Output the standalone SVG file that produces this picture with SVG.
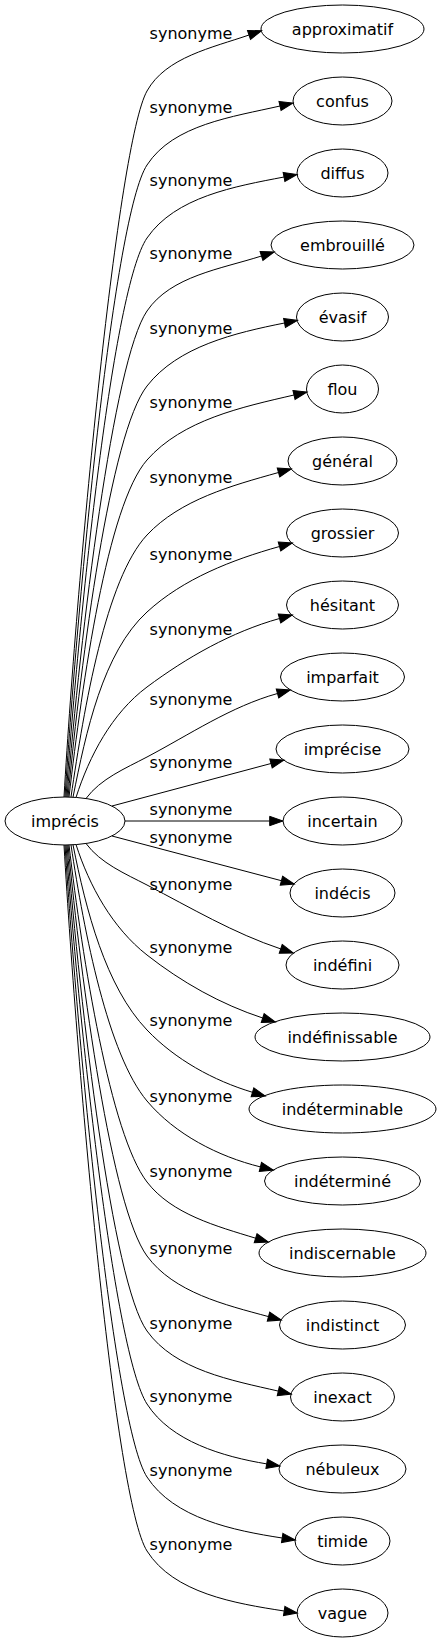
<svg xmlns="http://www.w3.org/2000/svg" width="441" height="1643" viewBox="0 0 441 1643">
<style>
text { font-family: "DejaVu Sans", "Liberation Sans", sans-serif; font-size: 16px; fill: #000; text-anchor: middle; }
.node ellipse { fill: none; stroke: #000; stroke-width: 1; }
#edges path { fill: none; stroke: #000; stroke-width: 1; marker-end: url(#arr); }
</style>
<defs>
<marker id="arr" markerUnits="userSpaceOnUse" markerWidth="16" markerHeight="12" refX="0" refY="4.67" orient="auto" overflow="visible">
<path d="M0,0 L13.3,4.67 L0,9.33 z" fill="#000" stroke="#000" stroke-width="1"/>
</marker>
</defs>
<rect x="0" y="0" width="441" height="1643" fill="#fff"/>
<g id="edges">
<g id="e0"><path d="M64,797 C77.9,560.4 117.8,143.4 147,91 C165.9,57.1 212.3,47.7 249,35"/><text x="191" y="39">synonyme</text></g>
<g id="e1"><path d="M65,797 C78.7,585 114.2,215.3 147,165 C173.5,124.4 232.7,116.9 280,106"/><text x="191" y="113">synonyme</text></g>
<g id="e2"><path d="M66,797 C79.6,609.2 113,287.4 147,238 C175.3,196.8 234.9,186.4 284,177"/><text x="191" y="186">synonyme</text></g>
<g id="e3"><path d="M67,797 C80.5,633.4 113.2,360.6 147,311 C170.8,276 221.2,268.9 261.5,256"/><text x="191" y="259">synonyme</text></g>
<g id="e4"><path d="M68,797 C81.3,658.1 110.1,433.3 147,386 C178,346.2 235.1,332.9 284.5,323"/><text x="191" y="334">synonyme</text></g>
<g id="e5"><path d="M69,797 C82.3,682.5 107.4,505 147,460 C182.4,419.8 241.8,407.1 294,395"/><text x="191" y="408">synonyme</text></g>
<g id="e6"><path d="M71,797 C84.1,707 106,578.8 147,535 C180.2,499.6 231.8,485.6 278.5,472.5"/><text x="191" y="483">synonyme</text></g>
<g id="e7"><path d="M73,797.2 C86,732 102.8,652.5 147,612 C183.3,578.7 232,559.8 279.5,546.5"/><text x="191" y="560">synonyme</text></g>
<g id="e8"><path d="M76,797.5 C89.4,755.8 111.9,713.2 147,687 C186.9,657.3 231.6,631.9 279.5,618.5"/><text x="191" y="635">synonyme</text></g>
<g id="e9"><path d="M86,798.5 C100.6,778.7 125.2,768.5 147,757 C189.8,734.4 230.9,706.5 277.5,693.5"/><text x="191" y="705">synonyme</text></g>
<g id="e10"><path d="M112,806 C165,791.8 218,777.6 271,763.5"/><text x="191" y="768">synonyme</text></g>
<g id="e11"><path d="M125,821 L269.7,821"/><text x="191" y="815">synonyme</text></g>
<g id="e12"><path d="M112,836 C168,850.9 225,865.8 281.4,880.7"/><text x="191" y="843">synonyme</text></g>
<g id="e13"><path d="M86,843.5 C100.6,863.3 125.2,873.7 147,885 C190.8,907.8 233.8,933.3 280.7,948.9"/><text x="191" y="890">synonyme</text></g>
<g id="e14"><path d="M76,844.5 C89.4,886.2 112.5,928 147,955 C181.5,982.1 221,1004.4 262.7,1018"/><text x="191" y="953">synonyme</text></g>
<g id="e15"><path d="M73,844.8 C86,910 105.5,986.6 147,1030 C175.2,1059.5 213.4,1080.6 252.5,1092.3"/><text x="191" y="1026">synonyme</text></g>
<g id="e16"><path d="M71,844.9 C84.1,932.9 108.3,1055.1 147,1101 C175.2,1134.4 218,1156.4 260.4,1166.9"/><text x="191" y="1102">synonyme</text></g>
<g id="e17"><path d="M69,844.9 C82.3,959.4 110.4,1134.5 147,1182 C171.9,1214.3 216.6,1226.2 255.6,1238.2"/><text x="191" y="1177">synonyme</text></g>
<g id="e18"><path d="M68,845 C81.3,983.9 111.5,1207.6 147,1256 C173.8,1292.5 224.8,1304.8 268.5,1316.6"/><text x="191" y="1254">synonyme</text></g>
<g id="e19"><path d="M67,845 C80.5,1008.6 112.1,1282.2 147,1331 C175,1370.1 231.5,1380.3 278.3,1391.1"/><text x="191" y="1329">synonyme</text></g>
<g id="e20"><path d="M66,845 C79.6,1032.8 114.6,1353.5 147,1404 C171.1,1441.5 222.7,1456.6 266.7,1463.9"/><text x="191" y="1402">synonyme</text></g>
<g id="e21"><path d="M65,845 C78.7,1057 114.3,1426.7 147,1477 C173.9,1518.4 233.4,1530.5 282.2,1538"/><text x="191" y="1476">synonyme</text></g>
<g id="e22"><path d="M64,845 C77.9,1081.6 114.9,1500.3 147,1551 C173.7,1593.2 234.9,1603.4 284.2,1611"/><text x="191" y="1550">synonyme</text></g>
</g>
<g id="n-imprecis" class="node"><ellipse cx="65" cy="821" rx="60" ry="24"/><text x="65" y="826.8">imprécis</text></g>
<g id="n-approximatif" class="node"><ellipse cx="342.5" cy="29" rx="81.5" ry="24"/><text x="342.5" y="34.8">approximatif</text></g>
<g id="n-confus" class="node"><ellipse cx="342.5" cy="101" rx="49.5" ry="24"/><text x="342.5" y="106.8">confus</text></g>
<g id="n-diffus" class="node"><ellipse cx="342.5" cy="173" rx="45.5" ry="24"/><text x="342.5" y="178.8">diffus</text></g>
<g id="n-embrouille" class="node"><ellipse cx="342.5" cy="245" rx="71.5" ry="24"/><text x="342.5" y="250.8">embrouillé</text></g>
<g id="n-evasif" class="node"><ellipse cx="342.5" cy="317" rx="46" ry="24"/><text x="342.5" y="322.8">évasif</text></g>
<g id="n-flou" class="node"><ellipse cx="342.5" cy="389" rx="36" ry="24"/><text x="342.5" y="394.8">flou</text></g>
<g id="n-general" class="node"><ellipse cx="342.5" cy="461" rx="54.5" ry="24"/><text x="342.5" y="466.8">général</text></g>
<g id="n-grossier" class="node"><ellipse cx="342.5" cy="533" rx="56" ry="24"/><text x="342.5" y="538.8">grossier</text></g>
<g id="n-hesitant" class="node"><ellipse cx="342.5" cy="605" rx="56" ry="24"/><text x="342.5" y="610.8">hésitant</text></g>
<g id="n-imparfait" class="node"><ellipse cx="342.5" cy="677" rx="62" ry="24"/><text x="342.5" y="682.8">imparfait</text></g>
<g id="n-imprecise" class="node"><ellipse cx="342.5" cy="749" rx="66.5" ry="24"/><text x="342.5" y="754.8">imprécise</text></g>
<g id="n-incertain" class="node"><ellipse cx="342.5" cy="821" rx="59.5" ry="24"/><text x="342.5" y="826.8">incertain</text></g>
<g id="n-indecis" class="node"><ellipse cx="342.5" cy="893" rx="52.5" ry="24"/><text x="342.5" y="898.8">indécis</text></g>
<g id="n-indefini" class="node"><ellipse cx="342.5" cy="965" rx="56.5" ry="24"/><text x="342.5" y="970.8">indéfini</text></g>
<g id="n-indefinissable" class="node"><ellipse cx="342.5" cy="1037" rx="87.5" ry="24"/><text x="342.5" y="1042.8">indéfinissable</text></g>
<g id="n-indeterminable" class="node"><ellipse cx="342.5" cy="1109" rx="93.5" ry="24"/><text x="342.5" y="1114.8">indéterminable</text></g>
<g id="n-indetermine" class="node"><ellipse cx="342.5" cy="1181" rx="78" ry="24"/><text x="342.5" y="1186.8">indéterminé</text></g>
<g id="n-indiscernable" class="node"><ellipse cx="342.5" cy="1253" rx="83.5" ry="24"/><text x="342.5" y="1258.8">indiscernable</text></g>
<g id="n-indistinct" class="node"><ellipse cx="342.5" cy="1325" rx="63" ry="24"/><text x="342.5" y="1330.8">indistinct</text></g>
<g id="n-inexact" class="node"><ellipse cx="342.5" cy="1397" rx="52" ry="24"/><text x="342.5" y="1402.8">inexact</text></g>
<g id="n-nebuleux" class="node"><ellipse cx="342.5" cy="1469" rx="63.5" ry="24"/><text x="342.5" y="1474.8">nébuleux</text></g>
<g id="n-timide" class="node"><ellipse cx="342.5" cy="1541" rx="47.5" ry="24"/><text x="342.5" y="1546.8">timide</text></g>
<g id="n-vague" class="node"><ellipse cx="342.5" cy="1613" rx="45.5" ry="24"/><text x="342.5" y="1618.8">vague</text></g>
</svg>
